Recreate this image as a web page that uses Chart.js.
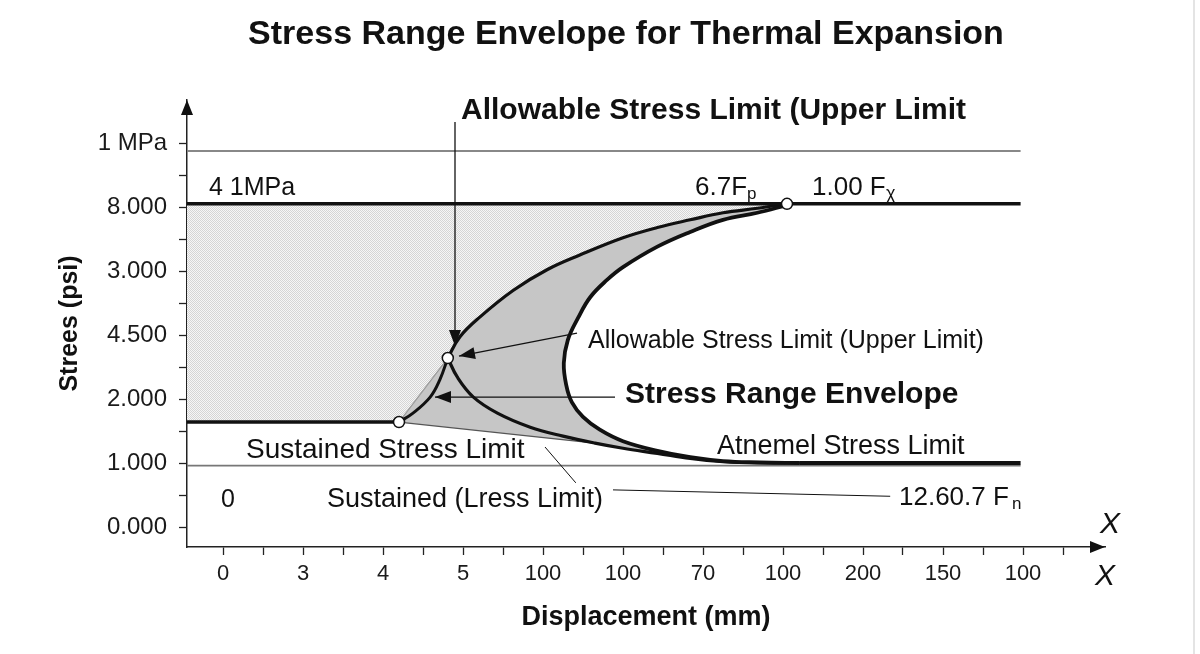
<!DOCTYPE html>
<html>
<head>
<meta charset="utf-8">
<script src="https://cdn.jsdelivr.net/npm/chart.js@4.4.1/dist/chart.umd.min.js"></script>
<style>
  html, body { margin: 0; padding: 0; background: #fff; }
</style>
</head>
<body>
<canvas id="stress-chart" width="1200" height="654"></canvas>
<script>

// tick labels (positions 0..n on each axis)
const xTickLabels = ['0', '3', '4', '5', '100', '100', '70', '100', '200', '150', '100'];
const yTickLabels = ['0.000', '1.000', '2.000', '4.500', '3.000', '8.000', '1 MPa'];

// key points on the envelope
const pointA = [2.2, 1.64];
const pointB = [2.81, 2.64];
const pointC = [7.05, 5.05];

// straight limits
const upperLimit = [[-0.45, 5.05], [9.97, 5.05]];
const topRefLine = [[-0.45, 5.875], [9.97, 5.875]];
const oneLine = [[-0.45, 0.96], [9.97, 0.96]];
const sustainedLine = [[-0.45, 1.64], pointA];

// curves
const riseCurve = [pointA, [2.375, 1.78], [2.59, 2.03], [2.71, 2.30], pointB];
const upperCurve = [pointB, [2.96, 2.97], [3.21, 3.28], [3.63, 3.70], [4.05, 4.02], [4.46, 4.25],
  [5.0, 4.52], [5.43, 4.68], [5.84, 4.80], [6.25, 4.91], [6.68, 4.98], pointC];
const innerCurve = [[7.05, 5.03], [6.68, 4.91], [6.25, 4.80], [5.84, 4.61], [5.43, 4.38], [5.0, 4.06],
  [4.8, 3.86], [4.59, 3.59], [4.44, 3.27], [4.31, 2.92], [4.26, 2.56], [4.29, 2.22], [4.36, 1.95],
  [4.5, 1.72], [4.71, 1.52], [5.0, 1.34], [5.43, 1.19], [5.84, 1.09], [6.25, 1.03], [6.71, 1.01], [7.21, 1.0]];
const lowerCurve = [pointB, [2.93, 2.34], [3.13, 2.03], [3.43, 1.78], [3.84, 1.56], [4.25, 1.42],
  [4.65, 1.31], [5.0, 1.23], [5.43, 1.15], [5.84, 1.07], [6.25, 1.02], [6.68, 1.0], [7.21, 1.0]];
const lowerTail = [[7.21, 1.0], [9.97, 1.0]];
const sustainedEdge = [pointA, [4.65, 1.31]];
const stippleEdge = [pointA, pointB];

// filled regions built from the curves above
const envelopeShape = [pointA].concat(upperCurve, innerCurve,
  lowerCurve.filter(p => p[0] >= 4.65 && p[0] <= 7.21).reverse());
const elasticShape = [[-0.45, 5.05]].concat(upperCurve.slice().reverse(), [pointA, [-0.45, 1.64]]);

// arrows / leader lines (data coords)
const arrows = [
  { from: [2.9, 6.33], to: [2.9, 2.83], head: true },
  { from: [4.425, 3.03], to: [2.95, 2.67], head: true },
  { from: [4.9, 2.03], to: [2.65, 2.03], head: true },
  { from: [4.025, 1.25], to: [4.41, 0.69], head: false },
  { from: [4.875, 0.58], to: [8.34, 0.48], head: false }
];

const FONT = "'Liberation Sans', Arial, Helvetica, sans-serif";
Chart.defaults.font.family = FONT;

const canvas = document.getElementById('stress-chart');
const ctx = canvas.getContext('2d');

// fine dot pattern for the shaded elastic region
const patCanvas = document.createElement('canvas');
patCanvas.width = 2;
patCanvas.height = 2;
const pctx = patCanvas.getContext('2d');
pctx.fillStyle = '#f6f6f6';
pctx.fillRect(0, 0, 2, 2);
pctx.fillStyle = '#d5d5d5';
pctx.fillRect(0, 0, 1, 1);
pctx.fillRect(1, 1, 1, 1);
const stipple = ctx.createPattern(patCanvas, 'repeat');

function toXY(pts) {
  return pts.map(p => ({ x: p[0], y: p[1] }));
}

function lineSet(pts, color, width, tension, order) {
  return {
    data: toXY(pts), showLine: true, borderColor: color, borderWidth: width,
    tension: tension, pointRadius: 0, fill: false, order: order
  };
}

function areaSet(pts, bg, order) {
  return {
    data: toXY(pts), showLine: true, borderColor: 'rgba(0,0,0,0)', borderWidth: 1,
    tension: 0, pointRadius: 0, fill: 'shape', backgroundColor: bg, order: order
  };
}

const xTicks = [];
for (let i = 0; i <= 21; i++) xTicks.push(i / 2);
const yTicks = [];
for (let i = 0; i <= 12; i++) yTicks.push(i / 2);

const annotate = {
  id: 'annotate',
  afterDatasetsDraw(chart) {
    const c = chart.ctx;
    const xs = chart.scales.x, ys = chart.scales.y;
    c.save();
    c.strokeStyle = '#111';
    c.fillStyle = '#111';
    arrows.forEach(a => {
      const x1 = xs.getPixelForValue(a.from[0]), y1 = ys.getPixelForValue(a.from[1]);
      const x2 = xs.getPixelForValue(a.to[0]), y2 = ys.getPixelForValue(a.to[1]);
      c.lineWidth = a.head ? 1.3 : 1;
      c.beginPath();
      c.moveTo(x1, y1);
      c.lineTo(x2, y2);
      c.stroke();
      if (a.head) {
        const ang = Math.atan2(y2 - y1, x2 - x1);
        const len = 16, hw = 6;
        c.beginPath();
        c.moveTo(x2, y2);
        c.lineTo(x2 - len * Math.cos(ang) + hw * Math.sin(ang), y2 - len * Math.sin(ang) - hw * Math.cos(ang));
        c.lineTo(x2 - len * Math.cos(ang) - hw * Math.sin(ang), y2 - len * Math.sin(ang) + hw * Math.cos(ang));
        c.closePath();
        c.fill();
      }
    });
    c.restore();
  },
  afterDraw(chart) {
    const c = chart.ctx;
    const area = chart.chartArea;
    c.save();
    // axis arrow heads
    c.fillStyle = '#111';
    c.beginPath();
    c.moveTo(area.right, area.bottom);
    c.lineTo(area.right - 15, area.bottom - 6);
    c.lineTo(area.right - 15, area.bottom + 6);
    c.closePath();
    c.fill();
    c.beginPath();
    c.moveTo(area.left, area.top);
    c.lineTo(area.left - 6, area.top + 15);
    c.lineTo(area.left + 6, area.top + 15);
    c.closePath();
    c.fill();

    // texts
    c.fillStyle = '#111';
    c.textBaseline = 'alphabetic';
    function txt(s, x, y, font, align) {
      c.font = font;
      c.textAlign = align || 'left';
      c.fillText(s, x, y);
    }
    txt('Stress Range Envelope for Thermal Expansion', 626, 44, 'bold 34px ' + FONT, 'center');
    txt('Allowable Stress Limit (Upper Limit', 461, 119, 'bold 30px ' + FONT);
    txt('4 1MPa', 209, 195, '25px ' + FONT);
    txt('6.7F', 695, 195, '26px ' + FONT);
    txt('p', 747, 199, '17px ' + FONT);
    txt('1.00 F', 812, 195, '26px ' + FONT);
    txt('\u03c7', 886, 199, '18px ' + FONT);
    txt('Allowable Stress Limit (Upper Limit)', 588, 348, '25px ' + FONT);
    txt('Stress Range Envelope', 625, 403, 'bold 30px ' + FONT);
    txt('Sustained Stress Limit', 246, 458, '28px ' + FONT);
    txt('Atnemel Stress Limit', 717, 454, '27px ' + FONT);
    txt('0', 228, 507, '25px ' + FONT, 'center');
    txt('Sustained (Lress Limit)', 327, 507, '27px ' + FONT);
    txt('12.60.7 F', 899, 505, '26px ' + FONT);
    txt('n', 1012, 509, '17px ' + FONT);
    txt('X', 1100, 533, 'italic 30px ' + FONT);
    txt('X', 1095, 585, 'italic 30px ' + FONT);

    // faint frame edge on the right
    c.strokeStyle = '#e4e4e4';
    c.lineWidth = 2;
    c.beginPath();
    c.moveTo(1194, 0);
    c.lineTo(1194, 654);
    c.stroke();
    c.restore();
  }
};

new Chart(ctx, {
  type: 'scatter',
  data: {
    datasets: [
      {
        data: toXY([pointA, pointB, pointC]), showLine: false, pointRadius: 5.5,
        pointBackgroundColor: '#fff', pointBorderColor: '#111', pointBorderWidth: 1.5, order: 0
      },
      lineSet(upperLimit, '#111', 3.5, 0, 2),
      lineSet(sustainedLine, '#111', 3.5, 0, 2),
      lineSet(riseCurve, '#111', 3, 0.4, 2),
      lineSet(upperCurve, '#111', 3.2, 0.4, 2),
      lineSet(innerCurve, '#111', 3.8, 0.4, 2),
      lineSet(lowerCurve, '#111', 3.2, 0.4, 2),
      lineSet(lowerTail, '#111', 4, 0, 2),
      lineSet(topRefLine, '#888', 2, 0, 5),
      lineSet(oneLine, '#777', 1.8, 0, 5),
      lineSet(sustainedEdge, '#555', 1.2, 0, 5),
      lineSet(stippleEdge, '#999', 1.2, 0, 5),
      areaSet(envelopeShape, '#c6c6c6', 9),
      areaSet(elasticShape, stipple, 10)
    ]
  },
  options: {
    responsive: false,
    animation: false,
    events: [],
    layout: { padding: { top: 100, right: 95, bottom: 0, left: 0 } },
    plugins: {
      legend: { display: false },
      tooltip: { enabled: false },
      title: { display: false }
    },
    scales: {
      x: {
        type: 'linear',
        min: -0.45,
        max: 11.025,
        afterBuildTicks: axis => { axis.ticks = xTicks.map(v => ({ value: v })); },
        afterFit: axis => { axis.height = 107; },
        ticks: {
          autoSkip: false,
          maxRotation: 0,
          padding: 6,
          color: '#1a1a1a',
          font: { size: 22 },
          callback: v => Number.isInteger(v) ? xTickLabels[v] : ''
        },
        grid: { drawOnChartArea: false, tickLength: 8, tickColor: '#222', tickWidth: 1.3 },
        border: { display: true, color: '#222', width: 1.5 },
        title: {
          display: true, text: 'Displacement (mm)', color: '#111',
          font: { size: 27, weight: 'bold' }, padding: { top: 0, bottom: 20 }
        }
      },
      y: {
        type: 'linear',
        min: -0.3125,
        max: 6.672,
        afterBuildTicks: axis => { axis.ticks = yTicks.map(v => ({ value: v })); },
        afterFit: axis => { axis.width = 187; },
        ticks: {
          padding: 12,
          color: '#1a1a1a',
          font: { size: 24 },
          callback: v => Number.isInteger(v) ? yTickLabels[v] : ''
        },
        grid: { drawOnChartArea: false, tickLength: 8, tickColor: '#222', tickWidth: 1.3 },
        border: { display: true, color: '#222', width: 1.5 },
        title: {
          display: true, text: 'Strees (psi)', color: '#111',
          font: { size: 25, weight: 'bold' }, padding: { top: 55, bottom: 0 }
        }
      }
    }
  },
  plugins: [annotate]
});
</script>
</body>
</html>
